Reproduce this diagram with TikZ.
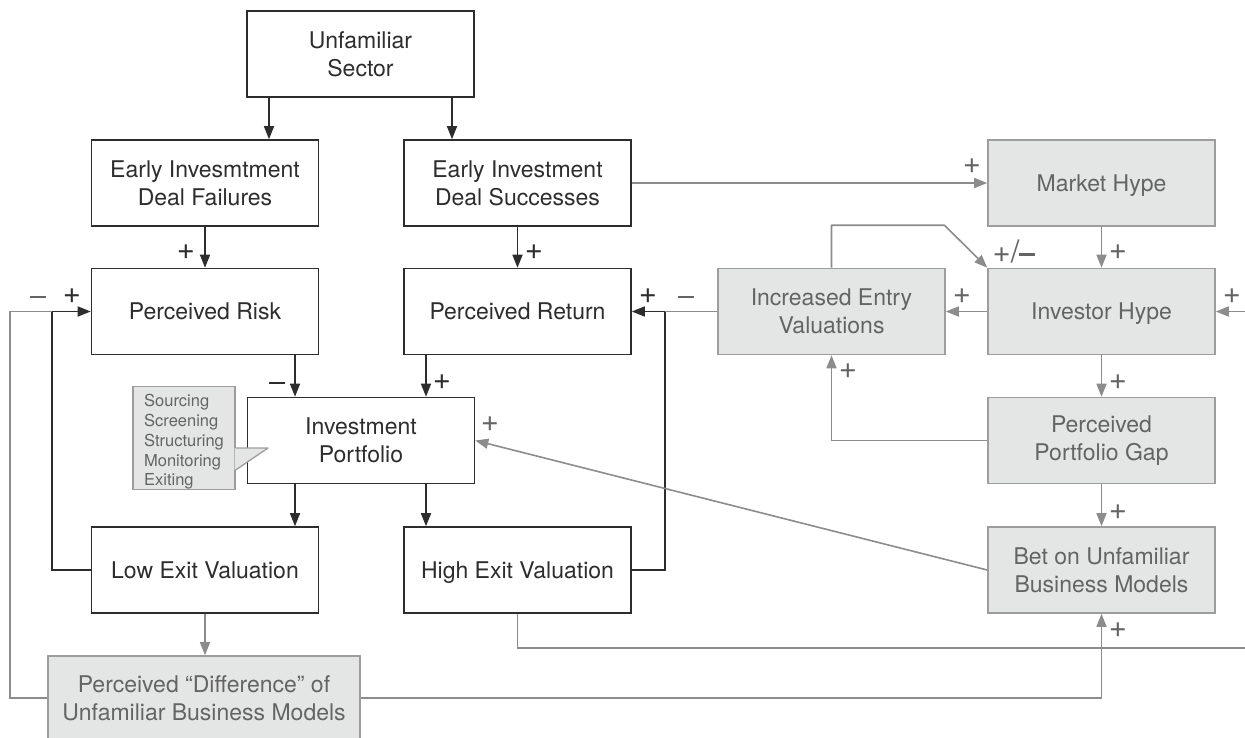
\documentclass[tikz,border=0pt]{standalone}
\usepackage{fontspec}
\setmainfont{TeX Gyre Heros}
\usepackage{tikz}
\usetikzlibrary{arrows.meta}
\definecolor{ColK}{RGB}{45,45,45}
\definecolor{ColG}{RGB}{140,140,140}
\definecolor{ColF}{RGB}{228,229,229}
\definecolor{ColT}{RGB}{100,100,100}
\newcommand{\Neg}{\rule{16pt}{2.8pt}}
\newcommand{\NegR}{\rule[7pt]{16pt}{2.6pt}}
\tikzstyle{Box}=[draw=ColK,line width=1.6pt,fill=white,minimum width=227pt,
minimum height=86pt,inner sep=0pt,align=center,text=ColK,
font=\fontsize{23}{28}\selectfont]
\tikzstyle{BoxG}=[Box,draw=ColG!85,fill=ColF,text=ColT]
\tikzstyle{One}=[text height=16.5pt,text depth=0pt]
\tikzstyle{Call}=[draw=ColG!85,fill=ColF,line width=1.3pt,text=ColT,
minimum width=102pt,minimum height=100pt,inner sep=0pt,align=left,
font=\fontsize{16.5}{19.8}\selectfont]
\tikzstyle{Line}=[draw=ColK,line width=1.6pt]
\tikzstyle{LineG}=[draw=ColG,line width=1.6pt]
\tikzstyle{Edge}=[Line,-{Triangle[length=13pt,width=10pt]}]
\tikzstyle{EdgeG}=[LineG,-{Triangle[length=13pt,width=10pt]}]
\tikzstyle{Sign}=[inner sep=0pt,text=ColK,font=\fontsize{31}{31}\selectfont]
\tikzstyle{SignG}=[Sign,text=ColT]

\begin{document}
\begin{tikzpicture}[x=1pt,y=-1pt]
        \useasboundingbox (0,0) rectangle (1245,737);
        % boxes
        \node[Box](sector)at(360.5,54){Unfamiliar\\Sector};
        \node[Box](fail)at(205,183){Early Invesmtment\\Deal Failures};
        \node[Box](succ)at(517.5,183){Early Investment\\Deal Successes};
        \node[BoxG,One](mhype)at(1101.5,183){Market Hype};
        \node[Box,One](risk)at(205,311.5){Perceived Risk};
        \node[Box,One](ret)at(517.5,311.5){Perceived Return};
        \node[BoxG](iev)at(831.5,311.5){Increased Entry\\Valuations};
        \node[BoxG,One](ihype)at(1101.5,311.5){Investor Hype};
        \node[Box](port)at(361,440.5){Investment\\Portfolio};
        \node[BoxG](gap)at(1101.5,440.5){Perceived\\Portfolio Gap};
        \node[Box,One](low)at(205,570){Low Exit Valuation};
        \node[Box,One](high)at(517.5,570){High Exit Valuation};
        \node[BoxG](bet)at(1101.5,570){Bet on Unfamiliar\\Business Models};
        \node[BoxG,minimum width=312pt,minimum height=84pt](diff)at(204,698)
            {Perceived “Difference” of\\Unfamiliar Business Models};
        % callout
        \node[Call](proc)at(184,438)
            {\rule{0pt}{20pt}Sourcing\\Screening\\Structuring\\Monitoring\\Exiting};
        \coordinate(tip)at(268,448);
        \fill[ColF]([xshift=-1pt]proc.east|-tip)--(tip)
            --([xshift=-1pt,yshift=-22pt]proc.east|-tip)--cycle;
        \draw[draw=ColG!85,line width=1.3pt,line join=round](proc.east|-tip)
            --(tip)--([yshift=-22pt]proc.east|-tip);
        % junctions
        \coordinate(jl)at(52,311.5);
        \coordinate(cl)at(10,311.5);
        \coordinate(jr)at(665,311.5);
        \coordinate(cb)at(1245,648);
        \coordinate(cr)at(1245,311.5);
        % black links
        \draw[Edge]([xshift=-91.5pt]sector.south)--([xshift=64pt]fail.north);
        \draw[Edge]([xshift=91.5pt]sector.south)--([xshift=-65.5pt]succ.north);
        \draw[Edge](fail.south)--(risk.north);
        \draw[Edge](succ.south)--(ret.north);
        \draw[Edge]([xshift=90pt]risk.south)--([xshift=-66pt]port.north);
        \draw[Edge]([xshift=-91.5pt]ret.south)--([xshift=65pt]port.north);
        \draw[Edge]([xshift=-66pt]port.south)--([xshift=90pt]low.north);
        \draw[Edge]([xshift=65pt]port.south)--([xshift=-91.5pt]high.north);
        \draw[Edge](low.west)-|(jl)--(risk.west);
        \draw[Edge](high.east)-|(jr)--(ret.east);
        % grey links
        \draw[LineG](iev.west)--(jr);
        \draw[LineG](diff.west)-|(cl)--(jl);
        \draw[EdgeG](low.south)--(low.south|-diff.north);
        \draw[EdgeG](diff.east)-|(bet.south);
        \draw[LineG](high.south)|-(cb);
        \draw[EdgeG](cr)--(ihype.east);
        \draw[EdgeG](succ.east)--(mhype.west);
        \draw[EdgeG](mhype.south)--(ihype.north);
        \draw[EdgeG](ihype.west)--(iev.east);
        \draw[EdgeG,line join=round](iev.north)--++(0,-42.5)--++(113,0)
            --(ihype.north west);
        \draw[EdgeG](ihype.south)--(gap.north);
        \draw[EdgeG](gap.west)-|(iev.south);
        \draw[EdgeG](gap.south)--(bet.north);
        \draw[EdgeG](bet.west)--(port.east);
        % signs
        \node[Sign](s1)at(186,252){+};
        \node[Sign](s2)at(534,252){+};
        \node[Sign](s3)at(277,383){\Neg};
        \node[Sign](s4)at(442,382){+};
        \node[SignG](s5)at(38,297){\Neg};
        \node[Sign](s6)at(72,296){+};
        \node[Sign](s7)at(648,296){+};
        \node[SignG](s8)at(686,297){\Neg};
        \node[SignG](s9)at(972,166){+};
        \node[SignG](s10)at(1118,252){+};
        \node[SignG](s11)at(1014,252){+/\NegR};
        \node[SignG](s12)at(962,296){+};
        \node[SignG](s13)at(1232,296){+};
        \node[SignG](s14)at(1118,382){+};
        \node[SignG](s15)at(848,371){+};
        \node[SignG](s16)at(1118,512){+};
        \node[SignG](s17)at(490,424){+};
        \node[SignG](s18)at(1118,630){+};
    \end{tikzpicture}
\end{document}
